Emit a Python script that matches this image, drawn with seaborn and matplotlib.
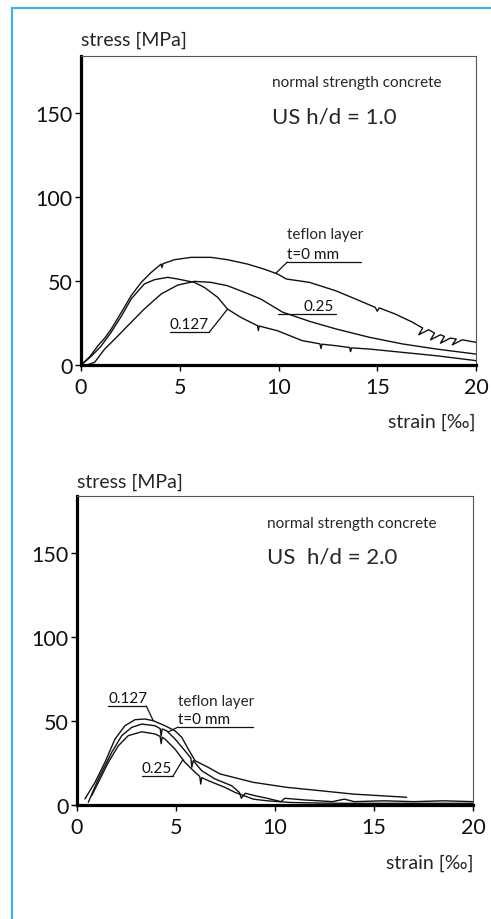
import matplotlib
matplotlib.use("Agg")
import matplotlib.pyplot as plt
from matplotlib.patches import Rectangle
import seaborn as sns
import pandas as pd

sns.set_theme(style="white")
FONT = ["Lato", "DejaVu Sans"]
plt.rcParams["font.family"] = FONT

# ---- h/d = 1.0 : stress-strain curves (strain in permille, stress in MPa)
hd1_t0_x = [0.0, 0.45, 0.86, 1.2, 1.53, 2.04, 2.54, 3.05, 3.55, 4.06, 4.1, 4.15, 4.73, 5.57, 6.58, 7.42,
            8.43, 9.27, 9.95, 10.4, 11.57, 12.9, 13.9, 14.9, 15.0, 15.1, 15.9, 16.8, 17.0, 17.3, 17.1,
            17.6, 17.9, 17.7, 18.2, 18.4, 18.2, 18.7, 19.0, 18.8, 19.3, 20.0]
hd1_t0_y = [0.0, 5.0, 11.5, 16.0, 21.4, 31.3, 41.3, 49.2, 55.1, 60.1, 58.0, 60.3, 62.7, 64.1, 64.1,
            62.7, 60.1, 57.1, 54.2, 51.2, 49.2, 44.2, 39.3, 34.3, 32.0, 34.0, 30.4, 25.4, 24.0, 22.0,
            18.0, 21.0, 19.0, 15.0, 18.0, 17.0, 13.0, 16.0, 15.5, 12.0, 15.0, 13.5]

hd1_025_x = [0.3, 0.69, 1.2, 1.8, 2.37, 3.2, 4.06, 4.9, 5.74, 6.58, 7.42, 8.27, 9.1, 9.95, 10.2,
             11.57, 12.9, 14.6, 16.3, 18.0, 20.0]
hd1_025_y = [0.0, 1.6, 9.5, 16.5, 23.4, 33.3, 42.3, 47.6, 49.8, 49.2, 47.2, 43.3, 39.3, 33.3, 31.5,
             26.0, 21.5, 16.5, 12.5, 9.5, 6.5]

hd1_0127_x = [0.0, 0.5, 1.0, 1.5, 2.04, 2.54, 3.2, 3.72, 4.39, 4.9, 5.74, 6.25, 6.92, 7.42, 8.1, 8.94,
              8.98, 9.02, 9.95, 11.2, 12.1, 12.15, 12.2, 12.9, 13.6, 13.65, 13.7, 14.6, 16.3, 18.0,
              20.0]
hd1_0127_y = [0.0, 5.0, 11.0, 19.0, 29.0, 39.3, 48.2, 50.8, 52.2, 51.2, 49.2, 46.2, 40.3, 33.3, 28.3,
              23.4, 20.5, 23.2, 20.4, 14.5, 12.6, 9.8, 12.4, 11.5, 10.4, 8.0, 10.2, 9.5, 7.5, 5.5,
              2.6]

# ---- h/d = 2.0
hd2_0127_x = [0.4, 0.91, 1.41, 1.92, 2.42, 2.93, 3.43, 3.85, 4.44, 4.95, 5.29, 5.62, 5.96, 6.63,
              7.22, 8.9, 10.6, 12.3, 13.95, 16.65]
hd2_0127_y = [3.6, 13.5, 25.4, 39.3, 47.2, 50.8, 51.2, 50.2, 47.2, 44.2, 40.3, 33.3, 26.4, 22.4,
              18.5, 13.5, 10.5, 8.5, 6.5, 4.6]

hd2_t0_x = [0.57, 1.08, 1.75, 2.26, 2.76, 3.27, 3.94, 4.2, 4.25, 4.3, 4.53, 4.95, 5.45, 5.75, 5.8,
            5.87, 6.3, 6.97, 7.81, 8.2, 8.3, 8.5, 9.0, 9.6, 10.3, 10.5, 11.5, 12.9, 13.5, 14.0,
            15.5, 17.0, 18.5, 20.0]
hd2_t0_y = [1.6, 15.5, 31.3, 41.3, 46.2, 48.2, 47.2, 45.5, 41.0, 45.3, 44.2, 39.3, 32.3, 28.0, 22.5,
            26.4, 20.4, 15.5, 11.5, 7.5, 4.0, 7.0, 5.5, 4.0, 2.0, 4.0, 3.0, 2.0, 3.5, 2.0, 2.5,
            2.0, 2.5, 2.0]

hd2_025_x = [0.74, 1.1, 1.58, 2.09, 2.59, 3.27, 3.94, 4.2, 4.25, 4.3, 4.44, 4.95, 5.45, 5.96, 6.2,
             6.25, 6.3, 6.63, 7.47, 7.98, 8.9, 9.6, 10.8, 12.0, 13.5, 15.0, 17.0, 20.0]
hd2_025_y = [5.5, 14.0, 25.4, 35.3, 41.3, 43.6, 42.3, 40.8, 36.5, 40.3, 39.3, 33.3, 25.4, 19.5,
             17.0, 12.5, 16.3, 14.5, 10.5, 7.5, 3.5, 2.5, 1.5, 1.2, 1.0, 1.0, 1.0, 1.0]

X_TICKS = [0, 5, 10, 15, 20]
Y_TICKS = [0, 50, 100, 150]
X_MAX, Y_MAX = 20, 184

fig = plt.figure(figsize=(4.91, 9.2), dpi=100)
fig.patch.set_facecolor("white")

# light blue frame around the figure
fig.add_artist(Rectangle((12 / 491, -0.1), 1.2, 1 - 9 / 920 + 0.1, transform=fig.transFigure,
                         fill=False, edgecolor="#3fb4e6", linewidth=1.6))

ax1 = fig.add_axes([81 / 491, 1 - 366 / 920, 395 / 491, 309 / 920])
ax2 = fig.add_axes([77 / 491, 1 - 806 / 920, 396 / 491, 309 / 920])

LC = "#111111"


def curve(ax, xs, ys):
    df = pd.DataFrame({"strain": xs, "stress": ys})
    sns.lineplot(data=df, x="strain", y="stress", ax=ax, sort=False, estimator=None,
                 color=LC, linewidth=1.0)


def style(ax):
    ax.set_xlim(0, X_MAX)
    ax.set_ylim(0, Y_MAX)
    ax.set_xticks(X_TICKS)
    ax.set_yticks(Y_TICKS)
    ax.set_xlabel("")
    ax.set_ylabel("")
    for s in ("left", "bottom"):
        ax.spines[s].set_color("black")
        ax.spines[s].set_linewidth(2.3)
    for s in ("top", "right"):
        ax.spines[s].set_color("#555555")
        ax.spines[s].set_linewidth(0.8)
    ax.tick_params(axis="both", which="both", direction="out", length=4, width=1.0,
                   colors="black", labelsize=15.5, bottom=True, left=True, pad=2)
    ax.tick_params(axis="x", pad=5)
    for lab in ax.get_xticklabels() + ax.get_yticklabels():
        lab.set_family(FONT)
        lab.set_color("#111111")


def tag(ax, x0, x1, y, text, lead=None, text_x=None):
    ax.plot([x0, x1], [y, y], color=LC, linewidth=0.9)
    if lead is not None:
        ax.plot([lead[0][0], lead[1][0]], [lead[0][1], lead[1][1]], color=LC, linewidth=0.9)
    ax.text(x0 if text_x is None else text_x, y + 0.8, text, ha="left", va="bottom",
            fontsize=11, family=FONT, color="#111111")


# ---- upper panel
curve(ax1, hd1_t0_x, hd1_t0_y)
curve(ax1, hd1_025_x, hd1_025_y)
curve(ax1, hd1_0127_x, hd1_0127_y)
style(ax1)
ax1.text(9.65, 168.5, "normal strength concrete", ha="left", va="center", fontsize=11, family=FONT)
ax1.text(9.65, 148.2, "US h/d = 1.0", ha="left", va="center", fontsize=16, family=FONT)
ax1.text(10.45, 78, "teflon layer", ha="left", va="center", fontsize=11, family=FONT)
tag(ax1, 10.45, 14.2, 61.3, "t=0 mm", lead=((10.45, 61.3), (9.85, 54.5)))
tag(ax1, 9.95, 12.9, 30.4, "0.25", text_x=11.26)
tag(ax1, 4.5, 6.5, 19.6, "0.127", lead=((6.5, 19.6), (7.42, 33.3)))

# ---- lower panel
curve(ax2, hd2_0127_x, hd2_0127_y)
curve(ax2, hd2_t0_x, hd2_t0_y)
curve(ax2, hd2_025_x, hd2_025_y)
style(ax2)
ax2.text(9.6, 167.9, "normal strength concrete", ha="left", va="center", fontsize=11, family=FONT)
ax2.text(9.6, 148.2, "US  h/d = 2.0", ha="left", va="center", fontsize=16, family=FONT)
ax2.text(5.1, 62, "teflon layer", ha="left", va="center", fontsize=11, family=FONT)
tag(ax2, 1.57, 3.5, 59.0, "0.127", lead=((3.5, 59.0), (3.85, 50.2)))
tag(ax2, 5.1, 8.9, 46.4, "t=0 mm", lead=((5.1, 46.4), (4.6, 43.5)))
tag(ax2, 3.28, 4.85, 17.3, "0.25", lead=((4.85, 17.3), (5.35, 27.0)))

# axis titles
for y_stress, x_stress, y_strain, x_strain in ((1 - 40 / 920, 81 / 491, 1 - 422 / 920, 476 / 491),
                                               (1 - 482 / 920, 77 / 491, 1 - 863 / 920, 473 / 491)):
    fig.text(x_stress, y_stress, "stress [MPa]", ha="left", va="center", fontsize=14, family=FONT)
    fig.text(x_strain, y_strain, "strain [‰]", ha="right", va="center", fontsize=14, family=FONT)

fig.savefig("out.png", dpi=100, facecolor="white")
